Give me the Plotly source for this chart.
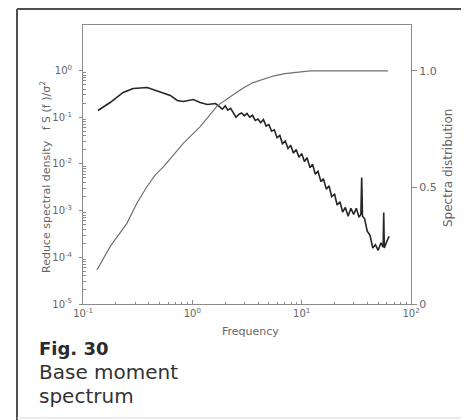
import plotly.graph_objects as go

# ---- data ----
spec_freq = [0.137, 0.177, 0.233, 0.288, 0.387, 0.412, 0.477, 0.590, 0.628, 0.728,
             0.826, 1.02, 1.18, 1.37, 1.63,
             1.78, 1.88, 2.00, 2.11, 2.24, 2.37, 2.51, 2.66, 2.82, 2.99,
             3.16, 3.35, 3.55, 3.76, 3.98, 4.22, 4.47, 4.73, 5.01, 5.31,
             5.62, 5.96, 6.31, 6.68, 7.08, 7.50, 7.94, 8.41, 8.91, 9.44,
             10.0, 10.6, 11.2, 11.9, 12.6, 13.3, 14.1, 15.0, 15.8, 16.8,
             17.8, 18.8, 20.0, 21.1, 22.4, 23.7, 25.1, 26.6, 28.2, 29.9,
             31.6, 33.5, 34.8, 35.4, 36.0, 37.6, 39.8, 42.2, 44.7, 47.3,
             50.1, 53.1, 55.6, 56.3, 57.0, 59.6, 63.1]
spec_vals = [0.139, 0.206, 0.338, 0.412, 0.433, 0.412, 0.355, 0.306, 0.292, 0.228,
             0.217, 0.239, 0.206, 0.187, 0.196,
             0.166, 0.148, 0.174, 0.141, 0.155, 0.123, 0.100, 0.115, 0.123, 0.107,
             0.120, 0.100, 0.110, 0.0851, 0.0912, 0.0759, 0.0891, 0.0646, 0.0692, 0.0501,
             0.0537, 0.0363, 0.0407, 0.0269, 0.0309, 0.0214, 0.0251, 0.0170, 0.0204, 0.0138,
             0.0166, 0.0112, 0.0135, 0.00832, 0.00977, 0.00603, 0.00692, 0.00417, 0.00479, 0.00288,
             0.00339, 0.00200, 0.00224, 0.00132, 0.00155, 0.000933, 0.00117, 0.000759, 0.00112, 0.000832,
             0.00112, 0.000724, 0.000832, 0.00513, 0.000759, 0.000676, 0.000363, 0.000295, 0.000158, 0.000186,
             0.000141, 0.000204, 0.000166, 0.000912, 0.000158, 0.000209, 0.000282]

cum_freq = [0.134, 0.177, 0.252, 0.311, 0.384, 0.458, 0.546, 0.776, 0.83, 1.18,
            1.69, 2.4, 2.95, 3.6, 4.5, 5.5, 7.0, 9.1, 12.0, 61.5]
cum_vals = [0.146, 0.246, 0.346, 0.432, 0.503, 0.554, 0.589, 0.675, 0.69, 0.761,
            0.85, 0.90, 0.928, 0.95, 0.966, 0.978, 0.988, 0.995, 1.0, 1.0]

x_tick_vals = [0.1, 1, 10, 100]
x_tick_text = ["10<sup>-1</sup>", "10<sup>0</sup>", "10<sup>1</sup>", "10<sup>2</sup>"]
y_tick_vals = [1e-5, 1e-4, 1e-3, 1e-2, 1e-1, 1]
y_tick_text = ["10<sup>-5</sup>", "10<sup>-4</sup>", "10<sup>-3</sup>",
               "10<sup>-2</sup>", "10<sup>-1</sup>", "10<sup>0</sup>"]
y2_tick_vals = [0, 0.5, 1.0]
y2_tick_text = ["0", "0.5", "1.0"]

x_minor = [m * 10 ** e for e in range(-1, 2) for m in range(2, 10)]
y_minor = [m * 10 ** e for e in range(-5, 0) for m in range(2, 10)]

AX = "#8a8a8a"
TXT = "#666666"
FONT = "DejaVu Sans"
OFF = 8  # page body margin offset

# target plot box in window pixels: x 83..411, y 25..304
L, R, T, B = 83 - OFF, 411 - OFF, 25 - OFF, 304 - OFF

fig = go.Figure()
fig.add_trace(go.Scatter(x=spec_freq, y=spec_vals, mode="lines",
                         line=dict(color="#262626", width=1.6), yaxis="y",
                         showlegend=False, hoverinfo="skip"))
fig.add_trace(go.Scatter(x=cum_freq, y=cum_vals, mode="lines",
                         line=dict(color="#707070", width=1.2),
                         yaxis="y2", showlegend=False, hoverinfo="skip"))

fig.update_layout(
    width=469, height=420,
    margin=dict(l=L, r=469 - R, t=T, b=420 - B),
    paper_bgcolor="white", plot_bgcolor="white",
    font=dict(family=FONT, size=10, color=TXT),
    xaxis=dict(type="log", range=[-1, 2], tickmode="array",
               tickvals=x_tick_vals, ticktext=x_tick_text,
               showline=True, linecolor=AX, linewidth=1, mirror=True,
               ticks="inside", ticklen=4, tickcolor=AX,
               minor=dict(tickmode="array", tickvals=x_minor, ticks="inside",
                          ticklen=2, tickcolor=AX, showgrid=False),
               showgrid=False, zeroline=False,
               tickfont=dict(family=FONT, size=10, color=TXT)),
    yaxis=dict(type="log", range=[-5, 0.974], tickmode="array",
               tickvals=y_tick_vals, ticktext=y_tick_text,
               showline=True, linecolor=AX, linewidth=1,
               ticks="outside", ticklen=3, tickcolor=AX,
               ticklabelstandoff=5,
               minor=dict(tickmode="array", tickvals=y_minor, ticks="inside",
                          ticklen=3, tickcolor=AX, showgrid=False),
               showgrid=False, zeroline=False,
               tickfont=dict(family=FONT, size=10, color=TXT)),
    yaxis2=dict(overlaying="y", side="right", range=[0, 1.197], tickmode="array",
                tickvals=y2_tick_vals, ticktext=y2_tick_text,
                showline=True, linecolor=AX, linewidth=1,
                ticks="outside", ticklen=5, tickcolor=AX,
                showgrid=False, zeroline=False,
                tickfont=dict(family=FONT, size=11, color=TXT)),
)

def px_x(p):
    return (p - OFF - L) / float(R - L)

def px_y(p):
    return (B - (p - OFF)) / float(B - T)

annots = [
    dict(text="Reduce spectral density   f S (f )/σ<sup>2</sup>", x=px_x(45), y=px_y(177),
         textangle=-90, font=dict(family=FONT, size=11, color=TXT)),
    dict(text="Spectra distribution", x=px_x(448), y=px_y(168),
         textangle=-90, font=dict(family=FONT, size=12, color=TXT)),
    dict(text="Frequency", x=px_x(250), y=px_y(331),
         font=dict(family=FONT, size=11, color=TXT)),
    dict(text="<b>Fig. 30</b>", x=px_x(37), y=px_y(348), xanchor="left",
         font=dict(family=FONT, size=18, color="#2a2a2a")),
    dict(text="Base moment", x=px_x(37), y=px_y(372), xanchor="left",
         font=dict(family=FONT, size=20, color="#333333")),
    dict(text="spectrum", x=px_x(37), y=px_y(396), xanchor="left",
         font=dict(family=FONT, size=20, color="#333333")),
]
for a in annots:
    a.setdefault("xanchor", "center")
    fig.add_annotation(xref="paper", yref="paper", showarrow=False, yanchor="middle", **a)

FR = "#505050"
shapes = [
    dict(x0=px_x(17), x1=px_x(17), y0=px_y(9), y1=px_y(430), line=dict(color=FR, width=2)),
    dict(x0=px_x(17), x1=px_x(463), y0=px_y(9), y1=px_y(9), line=dict(color=FR, width=2)),
    dict(x0=px_x(463), x1=px_x(463), y0=px_y(9), y1=px_y(430), line=dict(color=FR, width=2)),
    dict(x0=px_x(17), x1=px_x(463), y0=px_y(418), y1=px_y(418), line=dict(color="#d8d8d8", width=1)),
]
for s in shapes:
    fig.add_shape(type="line", xref="paper", yref="paper", **s)

fig.write_html("out.html")
